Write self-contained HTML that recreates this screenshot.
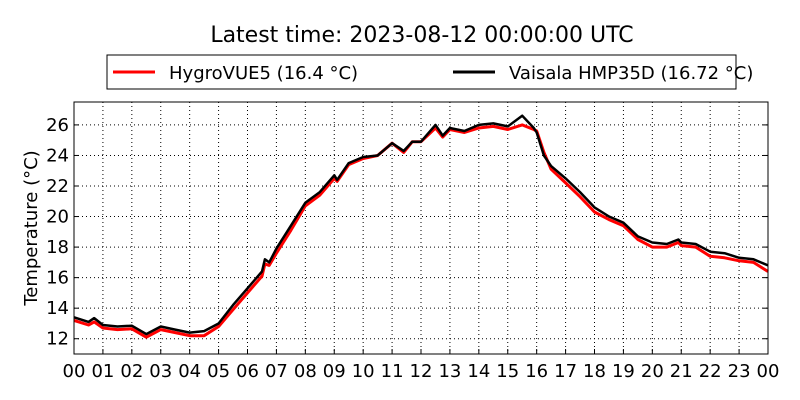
<!DOCTYPE html>
<html><head><meta charset="utf-8"><style>
body{margin:0;background:#fff;}
svg{display:block;font-family:"DejaVu Sans","Liberation Sans",sans-serif;}
</style></head><body>
<svg id="chart" width="800" height="400" viewBox="0 0 800 400" xmlns="http://www.w3.org/2000/svg">
<rect width="800" height="400" fill="#fff"/>
<text x="422" y="42" font-size="22" text-anchor="middle">Latest time: 2023-08-12 00:00:00 UTC</text>
<g>
<rect x="107" y="55" width="629" height="34" fill="#fff" stroke="#000" stroke-width="1"/>
<g>
<line x1="113" y1="72" x2="155" y2="72" stroke="#f00" stroke-width="3"/>
<text x="169" y="79" font-size="18">HygroVUE5 (16.4 °C)</text>
</g>
<g>
<line x1="453" y1="72" x2="495" y2="72" stroke="#000" stroke-width="3"/>
<text x="465" y="79" dx="0" font-size="18" transform="translate(0,0)"><tspan x="509">Vaisala HMP35D (16.72 °C)</tspan></text>
</g>
</g>
<g id="grid"></g>
<g id="series"></g>
<g id="axes"></g>
<text transform="translate(37,228) rotate(-90)" font-size="18" text-anchor="middle">Temperature (°C)</text>
</svg>
<script>
const hours = [0,0.5,0.7,1,1.5,2,2.5,3,3.5,4,4.5,5,5.5,6,6.5,6.6,6.75,7,7.5,8,8.5,9,9.1,9.5,10,10.5,11,11.4,11.7,12,12.5,12.75,13,13.5,14,14.5,15,15.5,15.9,16,16.25,16.5,17,17.5,18,18.5,19,19.5,20,20.5,20.9,21,21.5,22,22.5,23,23.5,24];
const vaisala = [13.4,13.1,13.35,12.9,12.8,12.85,12.3,12.8,12.6,12.4,12.5,13.0,14.2,15.3,16.4,17.2,17.0,17.9,19.4,20.9,21.6,22.7,22.4,23.5,23.9,24.0,24.8,24.3,24.9,24.9,26.0,25.3,25.8,25.6,26.0,26.1,25.9,26.6,25.8,25.5,24.0,23.3,22.5,21.6,20.6,20.0,19.6,18.7,18.3,18.2,18.5,18.3,18.2,17.7,17.6,17.3,17.2,16.8];
const hygro = [13.2,12.9,13.1,12.7,12.6,12.65,12.1,12.6,12.4,12.2,12.2,12.8,13.9,15.0,16.1,16.9,16.8,17.6,19.1,20.7,21.4,22.5,22.3,23.4,23.8,24.0,24.8,24.2,24.9,24.9,25.8,25.2,25.7,25.5,25.8,25.9,25.7,26.0,25.7,25.6,24.2,23.1,22.2,21.3,20.3,19.8,19.4,18.5,18.0,18.0,18.3,18.1,18.0,17.4,17.3,17.1,17.0,16.4];
const yTicks = [12,14,16,18,20,22,24,26];
const xTickLabels = ["00","01","02","03","04","05","06","07","08","09","10","11","12","13","14","15","16","17","18","19","20","21","22","23","00"];

const X0=74,X1=768,Y0=102,Y1=354,YMIN=11,YMAX=27.5;
const xs=h=>X0+(X1-X0)*h/24;
const ys=v=>Y1-(Y1-Y0)*(v-YMIN)/(YMAX-YMIN);
const NS="http://www.w3.org/2000/svg";
function mk(tag,attrs,parent){const e=document.createElementNS(NS,tag);for(const k in attrs)e.setAttribute(k,attrs[k]);parent.appendChild(e);return e;}
const grid=document.getElementById('grid'),axes=document.getElementById('axes'),series=document.getElementById('series');
xTickLabels.forEach((lab,i)=>{
  const x=xs(i);
  if(i>0&&i<24){const g=mk('line',{x1:x,y1:Y0,x2:x,y2:Y1,stroke:'#000','stroke-width':1,'stroke-dasharray':'1,3'},grid);
  
  }
  const t=mk('line',{x1:x,y1:Y1,x2:x,y2:Y1-5,stroke:'#000'},axes);
  
  
  const tx=mk('text',{x:x,y:Y1+23,'font-size':18,'text-anchor':'middle'},axes);
  tx.textContent=lab;
  
  
});
yTicks.forEach(v=>{
  const y=ys(v);
  const g=mk('line',{x1:X0,y1:y,x2:X1,y2:y,stroke:'#000','stroke-width':1,'stroke-dasharray':'1,3'},grid);
  
  
  mk('line',{x1:X0,y1:y,x2:X0+5,y2:y,stroke:'#000'},axes);
  mk('line',{x1:X1,y1:y,x2:X1-5,y2:y,stroke:'#000'},axes);
  const tx=mk('text',{x:X0-5,y:y+6,'font-size':18,'text-anchor':'end'},axes);
  tx.textContent=v;
  
  
});
const frame=mk('rect',{x:X0,y:Y0,width:X1-X0,height:Y1-Y0,fill:'none',stroke:'#000','stroke-width':1},axes);


function pts(arr){return arr.map((v,i)=>xs(hours[i]).toFixed(1)+','+ys(v).toFixed(1)).join(' ');}
const r=mk('polyline',{points:pts(hygro),fill:'none',stroke:'#f00','stroke-width':3,'stroke-linejoin':'round'},series);


const b=mk('polyline',{points:pts(vaisala),fill:'none',stroke:'#000','stroke-width':2.5,'stroke-linejoin':'round'},series);


</script>
</body></html>
